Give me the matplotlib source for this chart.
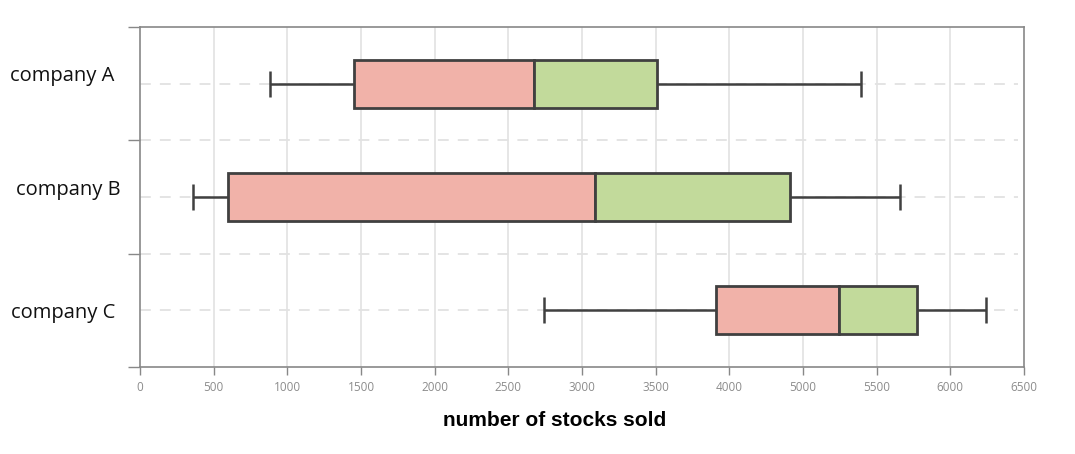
import numpy as np
import matplotlib
matplotlib.use("Agg")
import matplotlib.pyplot as plt

companies = ["company A", "company B", "company C"]
whisker_low = [880, 360, 2745]
q1 = [1450, 600, 3910]
median = [2675, 3090, 5245]
q3 = [3510, 4830, 5775]
whisker_high = [5395, 5660, 6245]

tick_labels_vals = [0, 500, 1000, 1500, 2000, 2500, 3000, 3500, 4000, 5000, 5500, 6000, 6500]
tick_positions = [0, 500, 1000, 1500, 2000, 2500, 3000, 3500, 4000, 4500, 5000, 5500, 6000]

lv = np.array(tick_labels_vals, dtype=float)
lp = np.array(tick_positions, dtype=float)

def fwd(x):
    return np.interp(np.asarray(x, dtype=float), lv, lp)

def inv(x):
    return np.interp(np.asarray(x, dtype=float), lp, lv)

plt.rcParams['font.family'] = ['Open Sans', 'DejaVu Sans']

fig = plt.figure(figsize=(10.75, 4.54), dpi=100)
ax = fig.add_axes([140/1075, 1-366.7/454, (1024-140)/1075, (366.7-27.3)/454])
ax.set_xscale('function', functions=(fwd, inv))
ax.set_xlim(0, 6500)
ax.set_ylim(3, 0)

pink = '#F1B2A9'
green = '#C2DA9B'
edge = '#404040'

ypos = np.arange(len(companies)) + 0.5
box_h = 0.43
cap_h = 0.23

# grid
for t in tick_labels_vals[1:-1]:
    ax.axvline(t, color='#e2e2e2', lw=1.2, zorder=0)
for y in [0.5, 1.0, 1.5, 2.0, 2.5]:
    ax.plot([0, 6460], [y, y], color='#e2e2e2', lw=1.3, ls=(0, (6, 5)), zorder=0.5)

for i, y in enumerate(ypos):
    ax.hlines(y, whisker_low[i], q1[i], color=edge, lw=1.8, zorder=2)
    ax.hlines(y, q3[i], whisker_high[i], color=edge, lw=1.8, zorder=2)
    ax.vlines([whisker_low[i], whisker_high[i]], y - cap_h/2, y + cap_h/2, color=edge, lw=1.8, zorder=2)
ax.barh(ypos, np.array(median) - np.array(q1), left=q1, height=box_h,
        color=pink, edgecolor=edge, linewidth=2.0, zorder=3)
ax.barh(ypos, np.array(q3) - np.array(median), left=median, height=box_h,
        color=green, edgecolor=edge, linewidth=2.0, zorder=3)

ax.set_xticks(tick_labels_vals)
ax.set_xticklabels([str(v) for v in tick_labels_vals], color='#8c8c8c', fontsize=8.5)
ax.tick_params(axis='x', length=6, width=1, color='#888888', pad=4)
ax.set_yticks([0, 1, 2, 3])
ax.set_yticklabels([])
ax.tick_params(axis='y', length=9, width=1, color='#888888')
for s in ax.spines.values():
    s.set_color('#888888')
    s.set_linewidth(1.2)

label_x = [62, 68, 63]
label_y = [76, 190, 313]
for i, name in enumerate(companies):
    fig.text(label_x[i]/1075, 1 - label_y[i]/454, name, ha='center', va='center',
             fontsize=14.5, color='#111111')

fig.text(555/1075, 1 - 420/454, "number of stocks sold", ha='center', va='center',
         fontsize=15, fontweight='bold', color='#000000',
         family=['Liberation Sans', 'DejaVu Sans'])

fig.savefig('out.png', dpi=100)
